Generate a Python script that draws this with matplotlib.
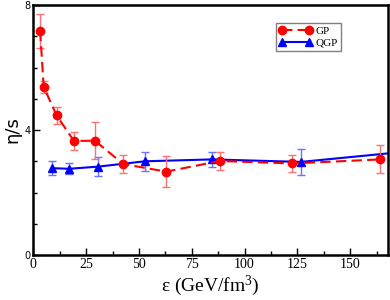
import matplotlib
matplotlib.use("Agg")
import matplotlib.pyplot as plt
from matplotlib.ticker import MultipleLocator
from matplotlib.lines import Line2D

plt.rcParams["mathtext.fontset"] = "custom"
plt.rcParams["mathtext.rm"] = "Liberation Serif"
plt.rcParams["mathtext.it"] = "Liberation Serif:italic"

# GP data
gp_x = [3.2, 4.9, 11.0, 19.2, 29.1, 42.6, 62.9, 88.4, 122.5, 164.2]
gp_y = [7.18, 5.38, 4.47, 3.65, 3.66, 2.91, 2.67, 3.01, 2.93, 3.06]
gp_err = [0.55, 0.19, 0.27, 0.29, 0.6, 0.3, 0.5, 0.3, 0.28, 0.45]

# QGP data
qgp_x = [8.7, 17.0, 30.8, 52.8, 84.6, 126.7, 172.0]
qgp_y = [2.78, 2.76, 2.83, 3.00, 3.06, 2.98, 3.28]
qgp_err = [0.23, 0.18, 0.3, 0.3, 0.23, 0.42, 0.3]

x_ticks = [0, 25, 50, 75, 100, 125, 150]
y_ticks = [0, 4, 8]

fig = plt.figure(figsize=(3.9, 3.0), dpi=100)
ax = fig.add_axes([0.0855, 0.15, 0.91, 0.833])

gp_style = dict(color="#ff0000", marker="o", ms=6, lw=1.5, ls=(0, (5, 2.5)))
qgp_style = dict(color="#0000ff", marker="^", ms=6, lw=1.5, ls="-")

ax.errorbar(gp_x, gp_y, yerr=gp_err, ecolor="#ff7070", capsize=3,
            elinewidth=1, capthick=1, zorder=3, **gp_style)
ax.errorbar(qgp_x, qgp_y, yerr=qgp_err, ecolor="#7070ff", capsize=3,
            elinewidth=1, capthick=1, zorder=2, **qgp_style)

ax.set_xlim(0, 168)
ax.set_ylim(0, 8)
ax.set_xticks(x_ticks)
ax.set_yticks(y_ticks)
ax.xaxis.set_minor_locator(MultipleLocator(12.5))
ax.yaxis.set_minor_locator(MultipleLocator(1))
ax.tick_params(which="both", direction="in", top=False, right=False)
ax.tick_params(which="major", length=5, width=1)
ax.tick_params(which="minor", length=3, width=1)
for lab in ax.get_xticklabels():
    lab.set_fontfamily("Liberation Serif")
    lab.set_fontsize(10)
for lab in ax.get_yticklabels():
    lab.set_fontfamily("DejaVu Sans")
    lab.set_fontsize(7)
ax.tick_params(axis="x", pad=2)
ax.tick_params(axis="y", pad=2)
for s in ax.spines.values():
    s.set_linewidth(1.8)

ax.set_xlabel(r"ε (GeV/fm$^{3}$)", fontfamily="Liberation Serif", fontsize=14, labelpad=2)
ax.set_ylabel("η/s", fontfamily="DejaVu Sans", fontsize=13, labelpad=2)

handles = [Line2D([], [], **gp_style), Line2D([], [], **qgp_style)]
leg = ax.legend(handles, ["GP", "QGP"], loc="upper left", bbox_to_anchor=(0.683, 0.93),
                prop={"family": "Liberation Serif", "size": 8},
                frameon=True, fancybox=False, edgecolor="#808080", framealpha=1,
                handlelength=3, handletextpad=0.3, borderpad=0.3, labelspacing=0.2,
                borderaxespad=0, numpoints=2)
leg.get_frame().set_linewidth(1)

fig.savefig("out.png", dpi=100)
